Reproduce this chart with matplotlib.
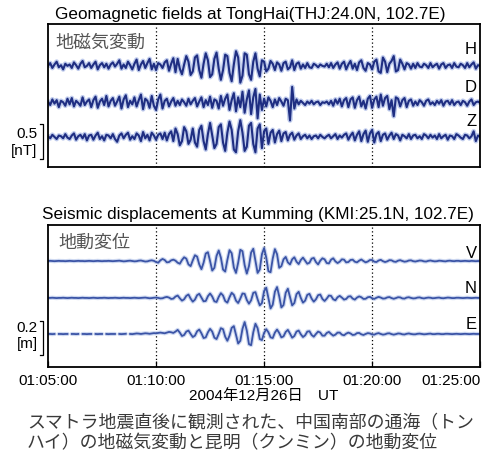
import matplotlib.pyplot as plt
import numpy as np

plt.rcParams['font.family'] = ['Liberation Sans', 'Noto Sans CJK JP']

nan = np.nan

# サンプル間隔 6 s, 01:05:00 から 01:25:00 まで
step_sec = 6

# 地磁気 (0.01 nT)
mag_h = [0, 4, -3, 2, 6, -2, 1, -5, 3, 0,
         2, -3, 5, 1, -4, 3, 7, -2, 0, 4,
         -3, 2, 6, -5, 1, 4, -2, 3, -4, 2,
         5, -1, 3, 8, -4, 2, -3, 6, 1, -5,
         3, 9, -6, 2, 7, -3, 4, 10, -5, 3,
         -6, 4, 2, -3, 5, 8, -7, 3, 11, -9,
         10, -4, -12, 2, 14, 6, -13, -8, 12, 15,
         -6, -17, 3, 18, 8, -16, -12, 10, 19, -4,
         -20, -6, 16, 14, -10, -22, 2, 21, 12, -24,
         -14, 18, 16, -12, -20, 6, 18, -4, -15, 8,
         6, -8, -4, 7, 3, -6, 5, 2, -7, 4,
         6, -5, -2, 8, -6, 3, 5, -4, 2, -3,
         4, -2, -3, 3, 1, -2, 2, 0, -1, 3,
         -2, 4, -3, 2, 5, -4, 3, 6, -5, 2,
         7, -4, 3, -6, 5, 8, -3, -7, 4, 2,
         -5, 6, 9, -8, -10, 12, 6, -9, 3, 7,
         14, -8, -6, 9, 3, -5, 4, 2, -4, 3,
         -3, 4, -1, -2, 3, 1, -3, 4, -2, 1,
         3, -4, 2, 4, -3, 1, 2, -3, 4, -1,
         -2, 3, 1, -3, 4, -2, 2, 5, -4, 1,
         0]
mag_d = [2, -3, 5, -1, 4, -6, 3, 1, -4, 6,
         -2, 7, -5, 3, 0, -4, 8, -3, 2, 5,
         -6, 4, 9, -7, 2, 6, -3, 10, -5, 3,
         7, -4, 2, 9, -8, 5, 11, -6, 3, -2,
         8, -5, 4, 12, -9, 6, 3, -7, 10, -4,
         -10, 5, 12, -8, 3, 6, -5, 2, 7, -4,
         3, -3, 5, 1, -4, 6, -2, 3, 7, -5,
         2, 8, -6, 4, -3, 9, -7, 5, 3, -8,
         10, -4, 6, 12, -10, 4, 14, -12, 8, -6,
         16, -14, 5, 18, -16, 8, 20, -22, 12, -10,
         6, -5, 8, 3, -6, 5, -3, 7, 2, -4,
         6, 4, -25, 23, -8, 5, -2, 3, 0, -3,
         2, -1, 3, -2, 1, 2, -3, 1, 0, 2,
         -2, 3, -4, 5, -1, 6, -5, 4, 7, -6,
         5, 8, -7, 4, 9, -5, 3, -8, 6, 10,
         -7, 5, 9, -6, 12, -4, 7, 10, -9, 4,
         -19, 8, 6, -5, 4, 7, -6, 3, 5, -4,
         2, -3, 4, 1, -4, 3, 5, -2, 1, -3,
         3, -1, 4, -4, 2, 3, -2, 4, -3, 1,
         2, -3, 3, 1, -4, 2, 5, -3, 1, 2,
         0]
mag_z = [1, -2, 3, 0, -3, 2, 1, -2, 4, -1,
         -3, 2, 5, -4, 1, 3, -2, 4, -5, 2,
         3, -4, 2, 6, -3, 1, -5, 3, 2, -2,
         4, -3, -7, 2, 5, -2, 3, 6, -4, 1,
         -3, 5, 2, -6, 7, -2, 3, -5, 6, 2,
         -4, 3, 5, -3, 6, -5, 4, 8, -6, 12,
         4, -12, -6, 14, 8, -10, -4, 12, -8, -14,
         10, 16, -6, -18, 4, 20, 2, -16, -10, 14,
         18, -8, -20, 6, 22, 10, -18, -22, 8, 24,
         6, -20, -14, 16, 20, -10, -22, 12, 18, -16,
         8, 12, -10, 6, 10, -8, 4, 9, -6, 5,
         7, -5, 3, 6, -4, 2, 5, -3, 1, 3,
         -2, 2, -3, 1, 2, -2, 3, 0, -2, 1,
         3, -2, 1, 4, -3, 2, -1, 3, 5, -4,
         2, 6, -5, 3, 8, -6, 4, 9, -7, 5,
         10, -8, 4, 7, -6, 3, 5, -4, 2, 6,
         -3, 4, 2, -5, 3, 1, -2, 4, -3, 2,
         3, -2, 1, -3, 4, 2, -2, 3, -1, 2,
         -3, 4, -2, 1, 3, -4, 2, 1, -3, 4,
         2, -1, -3, 3, 2, -2, 1, 8, -6, 2,
         0]

# 地動変位 (mm)
seis_v = [0, 1, 0, -1, 0, 1, 0, 0, -1, 0,
          1, 0, -1, 0, 1, 0, 0, -1, 0, 1,
          0, -1, 0, 1, 0, -1, 0, 0, 1, 0,
          -1, 0, 1, 2, 0, -2, -1, 1, 2, 0,
          -2, -1, 2, 3, 0, -3, -2, 2, 4, 1,
          -6, -10, 4, 12, 6, -8, -6, 4, 8, 2,
          -10, -16, 6, 22, 14, -20, -30, 4, 34, 26,
          -20, -48, -10, 44, 52, 0, -56, -40, 30, 62,
          20, -50, -62, 6, 64, 46, -38, -70, -10, 66,
          58, -24, -74, -30, 50, 72, 0, -70, -50, 40,
          76, 20, -60, -66, 14, 70, 40, -40, -30, 10,
          24, -8, -20, 10, 22, -4, -18, 6, 20, 2,
          -16, -10, 14, 18, -6, -20, 2, 16, 10, -12,
          -14, 8, 16, -2, -12, -4, 10, 8, -8, -6,
          6, 8, -4, -8, 2, 9, 0, -8, -3, 6,
          6, -4, -6, 3, 7, -1, -6, -2, 5, 4,
          -3, -5, 2, 5, 0, -4, -2, 3, 4, -1,
          -3, 0, 3, 2, -2, -3, 1, 3, 0, -2,
          -1, 2, 1, -1, -2, 1, 2, 0, -1, 1,
          1, -1, 0, 1, 0, -1, 1, 0, -1, 0,
          0]
seis_n = [0, 0, 1, 0, -1, 0, 0, 1, 0, -1,
          0, 1, 0, 0, -1, 0, 1, 0, 0, -1,
          0, 1, 0, -1, 0, 0, 1, 0, -1, 0,
          0, 1, 0, -1, 0, 1, 0, 0, -1, 0,
          1, 0, -1, 0, 1, 2, 0, -2, -1, 1,
          2, 0, -3, -2, 3, 6, 2, -6, -4, 8,
          14, -2, -16, -8, 12, 20, -4, -22, -10, 16,
          24, 2, -20, -18, 10, 26, 8, -20, -24, 6,
          28, 14, -18, -28, 4, 30, 18, -16, -30, -4,
          26, 24, -12, -34, -14, 30, 34, -8, -44, -30,
          40, 60, 0, -62, -40, 36, 64, 10, -56, -42,
          30, 54, 6, -44, -30, 22, 36, 0, -28, -16,
          18, 24, -4, -22, -8, 16, 20, -6, -18, -4,
          14, 12, -8, -14, 4, 12, 2, -10, -6, 8,
          10, -4, -10, 2, 9, 4, -6, -5, 4, 6,
          -2, -6, 1, 6, 2, -4, -3, 3, 5, -1,
          -5, -1, 4, 3, -3, -4, 2, 4, 0, -3,
          -2, 2, 3, -1, -3, 0, 2, 1, -2, -1,
          1, 2, -1, -2, 0, 2, 1, -1, -1, 1,
          1, 0, -1, 0, 1, 0, -1, 0, 1, 0,
          0]
seis_e = [0, 0, -1, 0, nan, 0, 0, -1, 0, 0,
          nan, 0, 0, -1, 0, nan, 0, 0, -1, 0,
          0, nan, 0, -1, 0, 0, nan, 0, -1, 0,
          0, 0, nan, 0, -1, 0, 1, nan, 0, -1,
          1, 3, 2, 0, 2, 4, 3, 1, 3, 5,
          4, 6, 8, 6, 4, 8, 12, 10, 6, 14,
          24, 8, -12, -6, 14, 20, 0, -18, -10, 16,
          26, 4, -24, -20, 10, 30, 14, -22, -30, 0,
          34, 28, -16, -40, -10, 36, 46, -4, -56, -40,
          30, 70, 20, -60, -66, 10, 60, 34, -30, -36,
          6, 28, 10, -20, -24, 8, 26, 6, -20, -14,
          12, 24, 2, -22, -12, 14, 20, -2, -18, -8,
          14, 16, -6, -16, 0, 14, 8, -10, -10, 6,
          12, 0, -10, -4, 8, 8, -4, -8, 2, 8,
          3, -6, -4, 5, 6, -2, -6, 0, 5, 3,
          -3, -4, 2, 5, 0, -4, -2, 3, 4, -1,
          -4, -1, 3, 2, -2, -3, 1, 3, 0, -2,
          -2, 1, 2, 0, -2, -1, 1, 2, -1, -1,
          1, 1, -1, -1, 1, 1, 0, -1, 0, 1,
          0, -1, 0, 1, 0, -1, 0, 1, 0, 0,
          0]

tick_sec = [0, 300, 600, 900, 1200]
tick_labels = ['01:05:00', '01:10:00', '01:15:00', '01:20:00', '01:25:00']


def draw_trace(ax, vals, scale, base, core, halo, lw):
    y = np.array(vals, dtype=float) * scale + base
    x = np.arange(len(y)) * step_sec
    ax.plot(x, y, color=halo, lw=lw * 2.3, alpha=0.5, solid_capstyle='round')
    ax.plot(x, y, color=core, lw=lw)


def draw_bracket(ax, y0, y1, label, ymid):
    tr = ax.get_yaxis_transform()
    ax.plot([-0.018, -0.011, -0.011, -0.018], [y0, y0, y1, y1],
            transform=tr, clip_on=False, color='k', lw=0.9)
    ax.text(-0.024, ymid, label, transform=tr, ha='right', va='center',
            fontsize=11, linespacing=1.25)


def setup_axis(ax, ymax):
    ax.set_xlim(0, 1200)
    ax.set_ylim(0, ymax)
    ax.set_yticks([])
    ax.set_xticks(tick_sec)
    for s in ax.spines.values():
        s.set_linewidth(1.3)
    for x in tick_sec[1:-1]:
        ax.axvline(x, color='k', ls=(0, (1, 2)), lw=0.9)


fig = plt.figure(figsize=(4.85, 4.64), dpi=100)
ax1 = fig.add_axes([0.099, 0.638, 0.891, 0.308])
ax2 = fig.add_axes([0.099, 0.207, 0.891, 0.306])

# 上段: 地磁気
setup_axis(ax1, 2.04)
ax1.tick_params(axis='x', length=0, labelbottom=False)
for vals, base, name, ly in [(mag_h, 1.443, 'H', 1.686),
                             (mag_d, 0.914, 'D', 1.143),
                             (mag_z, 0.429, 'Z', 0.657)]:
    draw_trace(ax1, vals, 0.01, base, '#1f2e82', '#8098da', 1.5)
    ax1.text(0.992, ly, name, transform=ax1.get_yaxis_transform(),
             ha='right', va='center', fontsize=12)
ax1.text(0.016, 0.874, '地磁気変動', transform=ax1.transAxes, ha='left',
         va='center', fontsize=13, color='#555555', family='Noto Sans CJK JP')
draw_bracket(ax1, 0.114, 0.614, '0.5\n[nT]', 0.364)

# 下段: 地震
setup_axis(ax2, 0.835)
ax2.tick_params(axis='x', direction='in', length=4, width=0.9, pad=4,
                labelsize=11)
ax2.set_xticklabels(tick_labels)
for lab in ax2.get_xticklabels():
    lab.set_x(lab.get_position()[0])
ax2.get_xticklabels()[-1].set_horizontalalignment('right')
for vals, base, name, ly in [(seis_v, 0.623, 'V', 0.676),
                             (seis_n, 0.406, 'N', 0.470),
                             (seis_e, 0.194, 'E', 0.253)]:
    draw_trace(ax2, vals, 0.001, base, '#3b54a6', '#9db2e2', 1.3)
    ax2.text(0.992, ly, name, transform=ax2.get_yaxis_transform(),
             ha='right', va='center', fontsize=12)
ax2.text(0.023, 0.880, '地動変位', transform=ax2.transAxes, ha='left',
         va='center', fontsize=13, color='#555555', family='Noto Sans CJK JP')
draw_bracket(ax2, 0.0706, 0.2706, '0.2\n[m]', 0.188)
ax2.set_xlabel('2004年12月26日\u3000UT', fontsize=11, labelpad=1)

fig.text(250 / 485, 1 - 14 / 464, 'Geomagnetic fields at TongHai(THJ:24.0N, 102.7E)',
         ha='center', va='center', fontsize=12.3)
fig.text(258 / 485, 1 - 214 / 464, 'Seismic displacements at Kumming (KMI:25.1N, 102.7E)',
         ha='center', va='center', fontsize=12.3)

fig.text(27 / 485, 1 - 423 / 464, 'スマトラ地震直後に観測された、中国南部の通海（トン',
         ha='left', va='center', fontsize=12.9, color='#3a3a3a', family='Noto Sans CJK JP')
fig.text(27 / 485, 1 - 443 / 464, 'ハイ）の地磁気変動と昆明（クンミン）の地動変位',
         ha='left', va='center', fontsize=12.9, color='#3a3a3a', family='Noto Sans CJK JP')

fig.savefig('out.png', dpi=100)
